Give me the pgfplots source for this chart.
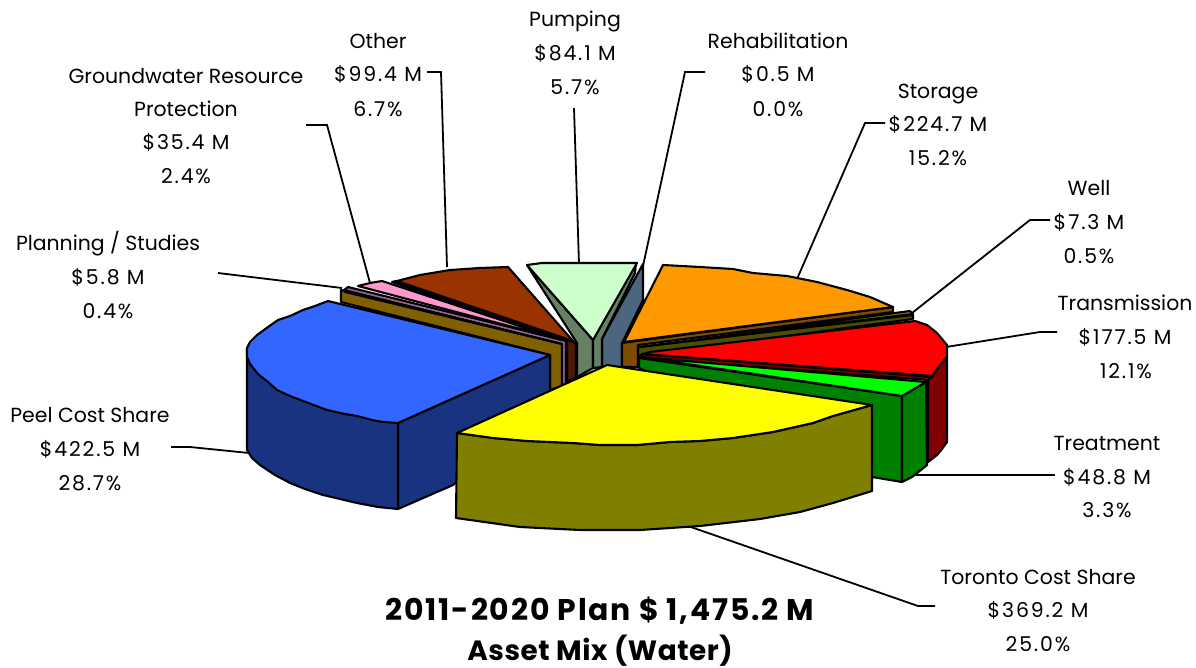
\documentclass[border=0pt]{standalone}
\usepackage{fontspec}
\setmainfont{Poppins}
\usepackage{pgfplots}
\pgfplotsset{compat=1.18}
\definecolor{cBlue}{HTML}{3366FF}\definecolor{cBlueD}{HTML}{1A3380}
\definecolor{cYel}{HTML}{FFFF00}\definecolor{cOli}{HTML}{808000}
\definecolor{cOra}{HTML}{FF9900}\definecolor{cOraD}{HTML}{804D00}
\definecolor{cRed}{HTML}{FF0000}\definecolor{cRedD}{HTML}{800000}
\definecolor{cLim}{HTML}{00FF00}\definecolor{cGrn}{HTML}{008000}
\definecolor{cOth}{HTML}{993300}\definecolor{cOthD}{HTML}{4D1A00}
\definecolor{cPnk}{HTML}{FF99CC}\definecolor{cPnkD}{HTML}{996699}
\definecolor{cPla}{HTML}{FFCC00}\definecolor{cPlaD}{HTML}{806000}
\definecolor{cPum}{HTML}{CCFFCC}\definecolor{cPumD}{HTML}{668066}
\definecolor{cRehD}{HTML}{4D6680}
\definecolor{cWelD}{HTML}{4D4D00}
\newcommand{\lab}[3]{\node[anchor=base,inner sep=0pt,outer sep=0pt,yshift=-1.5bp] at (axis cs:#1,#2) {\fontsize{20.5}{22}\selectfont #3};}
\newcommand{\lan}[3]{\node[anchor=base,inner sep=0pt,outer sep=0pt,yshift=-1.5bp] at (axis cs:#1,#2) {\fontsize{20.5}{22}\selectfont\addfontfeatures{LetterSpace=9}#3};}
\pgfplotsset{pie/.style={draw=black,line width=2.1bp,line join=round}, lead/.style={draw=black,line width=1.8bp}}
\begin{document}
\begin{tikzpicture}
\useasboundingbox (0,0) rectangle (1196bp,668bp);
\begin{axis}[at={(0,0)},anchor=south west,width=1196bp,height=668bp,scale only axis,xmin=0,xmax=1196,ymin=0,ymax=668,y dir=reverse,hide axis,clip=false]
% leader lines
\addplot[lead] coordinates {(427,72)(441,72)(447,267)};
\addplot[lead] coordinates {(306,125)(327,125)(370,283)};
\addplot[lead] coordinates {(218,273)(342,288)};
\addplot[lead] coordinates {(171,447)(190,447)(249,453)};
\addplot[lead] coordinates {(574,108)(579,264)};
\addplot[lead] coordinates {(705,72)(685,72)(643,266)};
\addplot[lead] coordinates {(885,123)(865,123)(797,279)};
\addplot[lead] coordinates {(1050,220)(1030,220)(912,313)};
\addplot[lead] coordinates {(1057,332)(1040,332)(946,347)};
\addplot[lead] coordinates {(1055,475)(912,475)};
\addplot[lead] coordinates {(935,606)(918,606)(688,526)};
% rehabilitation
\addplot[pie,fill=cRehD] coordinates {(602,339)(643,264)(643,300)(622,343)(622,367)(602,367)} --cycle;
% pumping
\addplot[pie,fill=cPumD] coordinates {(527,265)(593,340)(593,368)(577,377)(577,343)} --cycle;
\addplot[pie,fill=cPumD] coordinates {(593,340)(636,263)(635,273)(602,339)(602,367)(593,368)} --cycle;
\addplot[pie,fill=cPum] coordinates {(527,265)(542,263)(580,263)(637,263)(593,340)} --cycle;
% other
\addplot[pie,fill=cOthD] coordinates {(392,282)(396,281)(573,342)(576,343)(576,377)(567,382)(567,343)} --cycle;
\addplot[pie,fill=cOth] coordinates {(397,281)(420,275)(450,270)(480,268)(508,267)(573,341)} --cycle;
% groundwater
\addplot[pie,fill=cPnkD] coordinates {(348,287)(566,341)(566,385)(561,385)(561,344)(344,290)} --cycle;
\addplot[pie,fill=cPnk] coordinates {(358,286)(370,283)(382,281)(562,340)} --cycle;
% planning
\addplot[pie,fill=cPlaD] coordinates {(341,290)(562,344)(562,386)(550,390)(550,355)(341,302)} --cycle;
\addplot[pie,fill=cPla] coordinates {(346,291)(562,344)(345,292)} --cycle;
% peel
\addplot[pie,fill=cBlueD] coordinates {(398,423)(550,355)(550,390)(453,485)(398,509)} --cycle;
\addplot[pie,fill=cBlueD] coordinates {(247,348)(247,450)(252,458)(260,465)(275,475)(290,483)(305,489)(323,495)(340,499)(357,503)(378,507)(398,509)(398,423)} --cycle;
\addplot[pie,fill=cBlue] coordinates {(550,355)(328,301)(315,306)(303,310)(290,316)(278,320)(268,327)(257,335)(250,342)(247,348)(247,357)(250,364)(258,374)(268,382)(277,390)(290,396)(303,401)(327,410)(345,414)(357,416)(372,420)(383,422)(398,423)} --cycle;
% storage
\addplot[pie,fill=cOraD] coordinates {(622,343)(893,307)(893,312)(638,345)(638,367)(622,367)} --cycle;
\addplot[pie,fill=cOra] coordinates {(624,342)(663,265)(700,267)(733,269)(753,273)(787,276)(817,282)(847,290)(870,297)(893,307)} --cycle;
% well
\addplot[pie,fill=cWelD] coordinates {(638,347)(913,315)(913,319)(638,356)} --cycle;
\addplot[pie,fill=cOli] coordinates {(640,347)(910,311)(913,314)} --cycle;
% transmission
\addplot[pie,fill=cRedD] coordinates {(642,354)(932,377)(928,380)(640,358)} --cycle;
\addplot[pie,fill=cRedD] coordinates {(928,380)(932,377)(940,365)(947,357)(947,442)(942,449)(937,455)(928,462)} --cycle;
\addplot[pie,fill=cRed] coordinates {(650,352)(915,321)(927,325)(937,333)(947,345)(947,357)(940,365)(932,376)(643,354)} --cycle;
% treatment
\addplot[pie,fill=cGrn] coordinates {(639,358)(902,396)(902,482)(872,477)(639,368)} --cycle;
\addplot[pie,fill=cGrn] coordinates {(902,396)(926,382)(927,465)(912,477)(902,482)} --cycle;
\addplot[pie,fill=cLim] coordinates {(640,357)(926,382)(902,396)} --cycle;
% toronto
\addplot[pie,fill=cOli] coordinates {(457,433)(456,518)(520,527)(580,530)(640,530)(700,526)(760,519)(800,512)(833,503)(872,491)(872,405)(833,416)(813,423)(773,432)(733,438)(700,441)(670,442)(637,445)(600,445)(573,443)(527,441)(493,438)} --cycle;
\addplot[pie,fill=cYel] coordinates {(607,365)(872,405)(833,416)(813,423)(773,432)(733,438)(700,441)(670,442)(637,445)(600,445)(573,443)(527,441)(493,438)(457,433)} --cycle;
% labels
\lab{575}{25}{Pumping}\lan{575}{59}{\$84.1 M}\lan{575}{93}{5.7\%}
\lab{778}{47}{Rehabilitation}\lan{778}{80}{\$0.5 M}\lan{778}{115}{0.0\%}
\lab{378}{47}{Other}\lan{378}{80}{\$99.4 M}\lan{378}{115}{6.7\%}
\lab{186}{82}{Groundwater Resource}\lab{186}{115}{Protection}\lan{186}{148}{\$35.4 M}\lan{186}{182}{2.4\%}
\lab{938}{97}{Storage}\lan{938}{130}{\$224.7 M}\lan{938}{164}{15.2\%}
\lab{1089}{194}{Well}\lan{1089}{228}{\$7.3 M}\lan{1089}{262}{0.5\%}
\lab{1125}{309}{Transmission}\lan{1125}{343}{\$177.5 M}\lan{1126}{377}{12.1\%}
\lab{108}{249}{Planning / Studies}\lan{108}{283}{\$5.8 M}\lan{108}{317}{0.4\%}
\lab{90}{421}{Peel Cost Share}\lan{90}{455}{\$422.5 M}\lan{90}{489}{28.7\%}
\lab{1107}{449}{Treatment}\lan{1107}{483}{\$48.8 M}\lan{1107}{516}{3.3\%}
\lab{1038}{583}{Toronto Cost Share}\lan{1038}{616}{\$369.2 M}\lan{1038}{650}{25.0\%}
\node[anchor=base,inner sep=0pt] at (axis cs:600,620) {\fontsize{30}{34}\selectfont\bfseries\addfontfeatures{LetterSpace=6}2011-2020 Plan \$ 1,475.2 M};
\node[anchor=base,inner sep=0pt] at (axis cs:600,660) {\fontsize{28}{34}\selectfont\bfseries\addfontfeatures{LetterSpace=2}Asset Mix (Water)};
\end{axis}
\end{tikzpicture}
\end{document}
